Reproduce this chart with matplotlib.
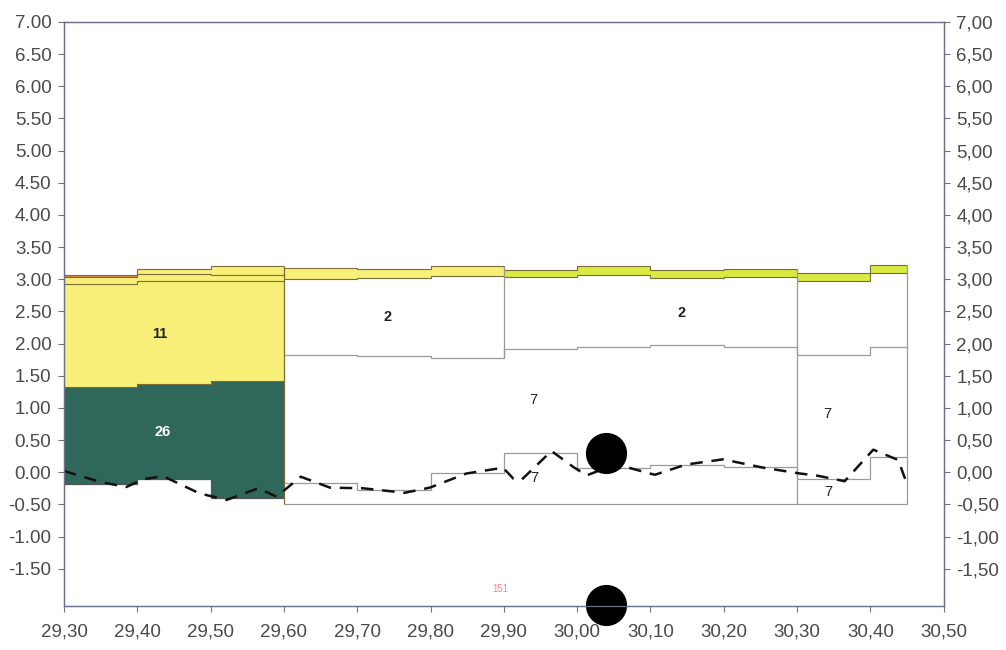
"""Depth section: stacked layer columns with a dashed profile line."""

import matplotlib

matplotlib.use("Agg")
import matplotlib.pyplot as plt
import numpy as np
from matplotlib.ticker import FuncFormatter

# --- data ---
EDGES = [29.30, 29.40, 29.50, 29.60, 29.70, 29.80, 29.90, 30.00, 30.10, 30.20, 30.30, 30.40, 30.45]
BASE = [-0.18, -0.11, -0.40, -0.50, -0.50, -0.50, -0.50, -0.50, -0.50, -0.50, -0.50, -0.50]
LOWER_TOP = [-0.18, -0.11, -0.40, -0.17, -0.28, -0.01, 0.30, 0.06, 0.11, 0.08, -0.11, 0.24]
MID_TOP = [1.33, 1.37, 1.42, 1.83, 1.81, 1.77, 1.92, 1.94, 1.97, 1.94, 1.82, 1.95]
UPPER_TOP = [2.93, 2.97, 2.97, 3.00, 3.02, 3.05, 3.04, 3.07, 3.02, 3.04, 2.98, 3.10]
BAND_TOP = [3.04, 3.08, 3.07, 3.18, 3.16, 3.20, 3.14, 3.21, 3.15, 3.16, 3.09, 3.22]
CAP_TOP = [3.07, 3.16, 3.21]

PROFILE_X = [29.300, 29.349, 29.385, 29.408, 29.435, 29.485, 29.522, 29.565, 29.590, 29.623,
             29.663, 29.708, 29.765, 29.799, 29.849, 29.899, 29.913, 29.924, 29.965, 29.995,
             30.013, 30.031, 30.067, 30.106, 30.149, 30.199, 30.254, 30.304, 30.326, 30.365,
             30.404, 30.438, 30.449]
PROFILE_Y = [0.02, -0.15, -0.23, -0.11, -0.06, -0.33, -0.43, -0.25, -0.38, -0.07,
             -0.24, -0.25, -0.32, -0.24, -0.02, 0.07, -0.10, -0.12, 0.33, 0.08,
             -0.05, 0.03, 0.08, -0.04, 0.12, 0.20, 0.07, -0.02, -0.05, -0.14,
             0.35, 0.19, -0.15]

LABEL_TEXT = ["11", "26", "2", "2", "7", "7", "7", "7"]
LABEL_X = [29.431, 29.434, 29.742, 30.143, 29.940, 29.942, 30.342, 30.343]
LABEL_Y = [2.15, 0.62, 2.41, 2.48, 1.12, -0.09, 0.90, -0.31]

MARKER_X = [30.039, 30.039]
MARKER_Y = [0.30, -2.07]

NOTE_TEXT = "151"
NOTE_X, NOTE_Y = 29.895, -1.81

X_TICKS = np.round(np.arange(29.30, 30.501, 0.10), 2)
Y_TICKS = np.round(np.arange(-1.50, 7.001, 0.50), 2)
Y_MIN, Y_MAX = -2.08, 7.00

GREEN = "#2f685b"
YELLOW = "#f8ef78"
LIME = "#d8ea42"
RUST = "#cf8a48"
BOX_EDGE = "#9a9a9a"
COLOR_EDGE = "#7d6c38"
AXIS_COLOR = "#6c7088"
TEXT_COLOR = "#4a4a4a"


def fill(ax, idx, bottom, top, colors):
    left = [EDGES[i] for i in idx]
    width = [EDGES[i + 1] - EDGES[i] for i in idx]
    b = np.array([bottom[i] for i in idx])
    t = np.array([top[i] for i in idx])
    ax.bar(left, t - b, width=width, bottom=b, align="edge", color=colors, linewidth=0, zorder=1)


def stairs(ax, idx, values, color, lw=0.9):
    vals = [values[i] for i in idx]
    ax.stairs(vals, EDGES[idx[0]:idx[-1] + 2], baseline=None, color=color, lw=lw, zorder=2)


def main() -> None:
    plt.rcParams["font.family"] = ["Liberation Sans", "DejaVu Sans"]
    fig = plt.figure(figsize=(10.06, 6.5), dpi=100)
    ax = fig.add_axes([0.0636, 0.0677, 0.8744, 0.8985])

    grp_a = [0, 1, 2]
    rest = list(range(3, 12))

    # group A: coloured stack
    fill(ax, grp_a, BASE, MID_TOP, GREEN)
    fill(ax, grp_a, MID_TOP, UPPER_TOP, YELLOW)
    fill(ax, grp_a, UPPER_TOP, BAND_TOP, YELLOW)
    fill(ax, grp_a, BAND_TOP, CAP_TOP + [0] * 9, [RUST, YELLOW, YELLOW])
    stairs(ax, grp_a, BASE, "#555555", lw=0.9)
    for vals in (MID_TOP, UPPER_TOP, BAND_TOP, CAP_TOP):
        stairs(ax, grp_a, vals, COLOR_EDGE, lw=0.8)

    # remaining groups: outlined boxes with a thin coloured cap
    fill(ax, rest, UPPER_TOP, BAND_TOP, [YELLOW] * 3 + [LIME] * 6)
    for vals in (BASE, LOWER_TOP, MID_TOP):
        stairs(ax, rest, vals, BOX_EDGE)
    for vals in (UPPER_TOP, BAND_TOP):
        stairs(ax, rest, vals, COLOR_EDGE, lw=0.8)

    ax.vlines(EDGES[3], -0.50, 3.21, color=COLOR_EDGE, lw=0.9, zorder=2)
    ax.vlines(EDGES[6], 1.77, 3.20, color=BOX_EDGE, lw=0.9, zorder=2)
    ax.vlines(EDGES[10], -0.50, 3.16, color=BOX_EDGE, lw=0.9, zorder=2)
    ax.vlines(EDGES[12], -0.50, 3.22, color=BOX_EDGE, lw=0.9, zorder=2)

    ax.plot(PROFILE_X, PROFILE_Y, color="#111111", lw=1.8, ls=(0, (5, 3.5)), zorder=4)

    for txt, x, y in zip(LABEL_TEXT, LABEL_X, LABEL_Y):
        bold = txt != "7"
        color = "white" if txt == "26" else "#222222"
        ax.text(x, y, txt, ha="center", va="center", fontsize=10.5,
                fontweight="bold" if bold else "normal", color=color, zorder=5)
    ax.text(NOTE_X, NOTE_Y, NOTE_TEXT, ha="center", va="center", fontsize=7,
            color="#f08890", zorder=5)

    ax.scatter(MARKER_X, MARKER_Y, s=820, color="black", zorder=6, clip_on=False)

    ax.set_xlim(X_TICKS[0], X_TICKS[-1])
    ax.set_ylim(Y_MIN, Y_MAX)
    ax.set_xticks(X_TICKS)
    ax.set_yticks(Y_TICKS)
    ax.xaxis.set_major_formatter(FuncFormatter(lambda v, _: f"{v:.2f}".replace(".", ",")))
    ax.yaxis.set_major_formatter(FuncFormatter(lambda v, _: f"{v:.2f}"))

    ax2 = ax.twinx()
    ax2.set_ylim(Y_MIN, Y_MAX)
    ax2.set_yticks(Y_TICKS)
    ax2.yaxis.set_major_formatter(FuncFormatter(lambda v, _: f"{v:.2f}".replace(".", ",")))

    for a in (ax, ax2):
        for spine in a.spines.values():
            spine.set_color(AXIS_COLOR)
            spine.set_linewidth(0.9)
        a.tick_params(colors=AXIS_COLOR, labelcolor=TEXT_COLOR, labelsize=13.5,
                      length=4.5, width=0.8, pad=4.5)
    ax.tick_params(axis="x", pad=8)

    fig.savefig("out.png", dpi=100)
    plt.close(fig)


if __name__ == "__main__":
    main()
